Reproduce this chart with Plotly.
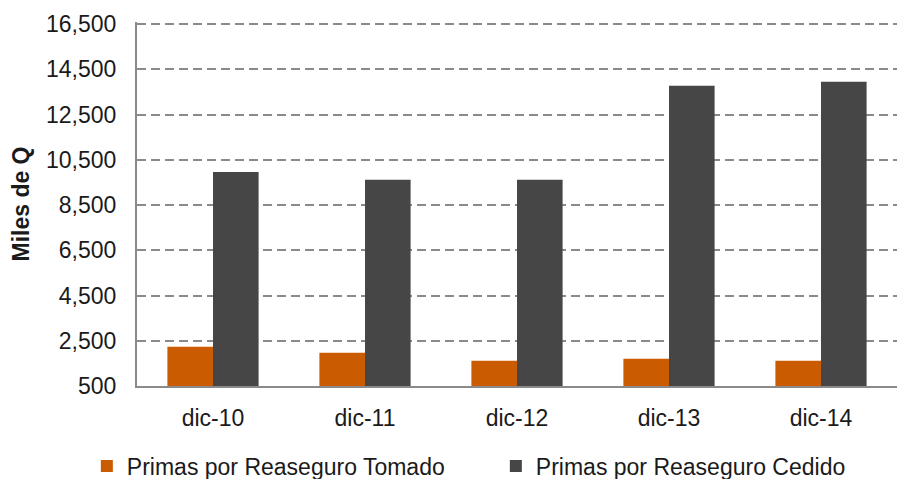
import plotly.graph_objects as go

# Periods and reinsurance premium series (thousands of quetzales)
periodos = ["dic-10", "dic-11", "dic-12", "dic-13", "dic-14"]
primas_tomado = [2240, 1970, 1620, 1710, 1620]
primas_cedido = [9960, 9620, 9620, 13770, 13950]

y_ticks = list(range(500, 16501, 2000))

FONT = "Liberation Sans, Arial, sans-serif"
GRID = "#8a8a8a"
TXT = "#1a1a1a"

fig = go.Figure()
fig.add_trace(go.Bar(
    x=periodos, y=primas_tomado, name="Primas por Reaseguro Tomado",
    marker=dict(color="#CB5B00", line=dict(width=0)),
))
fig.add_trace(go.Bar(
    x=periodos, y=primas_cedido, name="Primas por Reaseguro Cedido",
    marker=dict(color="#464646", line=dict(width=0)),
))

fig.update_layout(
    width=898, height=479,
    margin=dict(l=137, r=1, t=22, b=93, autoexpand=False),
    paper_bgcolor="white", plot_bgcolor="white",
    barmode="group", bargap=0.4, bargroupgap=0,
    font=dict(family=FONT, size=23, color=TXT),
    showlegend=True,
    legend=dict(
        orientation="h", xanchor="left", yanchor="middle",
        x=-0.066, y=-0.22,
        font=dict(family=FONT, size=23, color=TXT),
        entrywidthmode="pixels", entrywidth=364,
        itemwidth=30, bgcolor="rgba(0,0,0,0)",
        tracegroupgap=0,
    ),
)

fig.update_xaxes(
    showgrid=False, ticks="", showline=True, linecolor=GRID, linewidth=2,
    tickfont=dict(family=FONT, size=23, color=TXT),
    ticklabelstandoff=10,
)
fig.update_yaxes(
    range=[500, 16590], tickvals=y_ticks, tickformat=",",
    showgrid=True, gridcolor=GRID, gridwidth=2, griddash="9px,5px",
    showline=True, linecolor=GRID, linewidth=2, ticks="",
    zeroline=False,
    tickfont=dict(family=FONT, size=23, color=TXT),
    ticklabelstandoff=14,
    title=dict(text="<b>Miles de Q</b>", standoff=10,
               font=dict(family=FONT, size=23, color=TXT)),
)

fig.write_html("out.html")
